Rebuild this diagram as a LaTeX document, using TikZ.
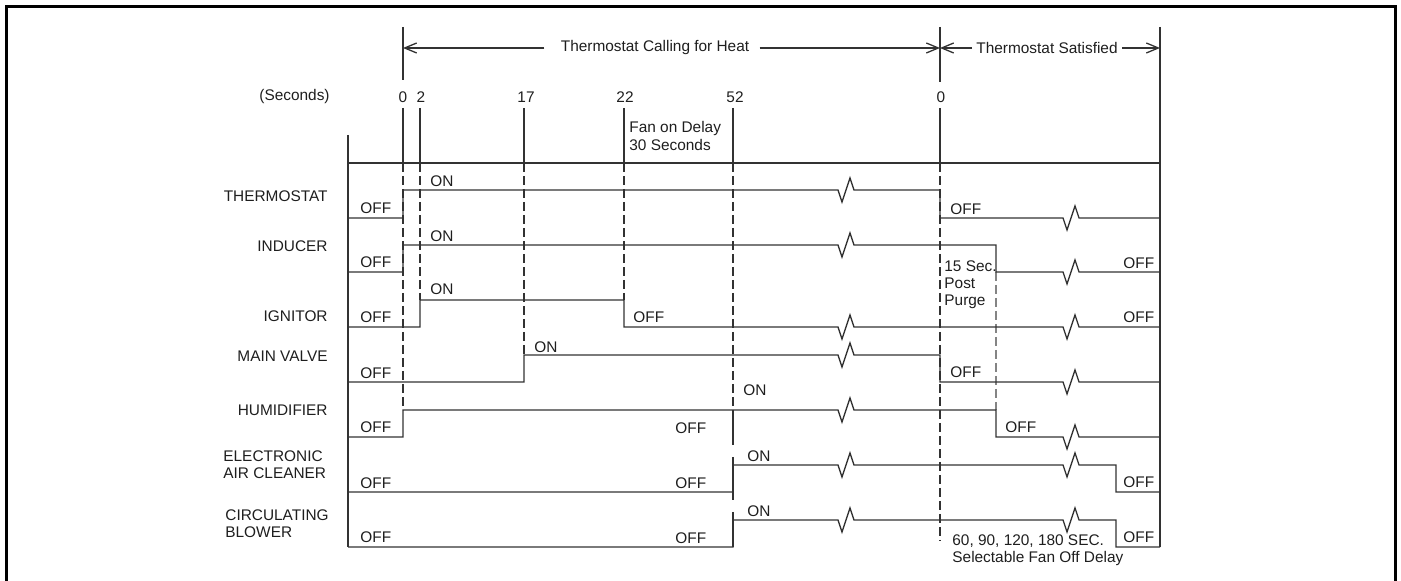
\documentclass[tikz,border=0pt]{standalone}
\usepackage{fontspec}
\setmainfont{Liberation Sans}
\usepackage{tikz}
\usetikzlibrary{arrows.meta, positioning}
\definecolor{trazo}{RGB}{50,50,50}
\definecolor{letra}{RGB}{30,30,30}
\newcommand{\zig}[2]{-- (#1-8,#2) -- (#1-4,#2+12) -- (#1+4,#2-12) -- (#1+8,#2)}
\tikzset{>={Straight Barb[length=6pt,width=5pt]},
  lbl/.style={font=\fontsize{7.7}{8.6}\selectfont, text=letra, inner sep=0pt},
  sig/.style={trazo, line width=0.65pt},
  guide/.style={trazo, line width=0.6pt, dash pattern=on 4.5pt off 2pt}}

\begin{document}
\begin{tikzpicture}[x=0.5pt, y=-0.5pt]
  \useasboundingbox (0,0) rectangle (1401,581);
  % frame
  \draw[black, line width=1.5pt] (6,590) -- (6,7) -- (1395,7) -- (1395,590);
  % header
  \coordinate (h0) at (403,48);
  \coordinate (h1) at (940,48);
  \coordinate (h2) at (1160,48);
  \node[lbl] (call) at (655,48) {Thermostat Calling for Heat};
  \node[lbl] (sat) at (1047,48) {Thermostat Satisfied};
  \draw[sig, ->] ([xshift=-8pt]call.west) -- (h0);
  \draw[sig, ->] ([xshift=5pt]call.east) -- (h1);
  \draw[sig, ->] ([xshift=-2pt]sat.west) -- (h1);
  \draw[sig, ->] ([xshift=2pt]sat.east) -- (h2);
  \draw[sig] (403,27) -- (403,80);
  \draw[sig] (940,27) -- (940,82);
  % seconds
  \node[lbl, anchor=east] (secs) at (330,97) {(Seconds)};
  \node[lbl] (s0) at (403,97) {0};
  \node[lbl] (s2) at (421,97) {2};
  \node[lbl] (s17) at (526,97) {17};
  \node[lbl] (s22) at (625,97) {22};
  \node[lbl] (s52) at (735,97) {52};
  \node[lbl] (r0) at (941,97) {0};
  \node[lbl, anchor=west, align=left] (fanon) at (629,136) {Fan on Delay\\30 Seconds};
  \foreach \t in {403,420,524,624,733,940}
    \draw[sig] (\t,108) -- (\t,163);
  % chart box
  \draw[sig] (348,135) -- (348,547);
  \draw[sig] (348,163) -- (1160,163);
  \draw[sig] (1160,27) -- (1160,547);
  % guide lines
  \draw[guide] (403,163) -- (403,410);
  \draw[guide] (420,163) -- (420,300);
  \draw[guide] (524,163) -- (524,355);
  \draw[guide] (624,163) -- (624,300);
  \draw[guide] (733,163) -- (733,410);
  \draw[guide] (940,163) -- (940,541);
  \draw[guide, trazo!60] (996,272) -- (996,410);
  \draw[sig] (733,410) -- (733,445);
  \draw[sig] (733,457) -- (733,500);
  \draw[sig] (733,512) -- (733,547);
  % signals
  \draw[sig] (348,218) -- (403,218) -- (403,190) \zig{846}{190} -- (940,190) -- (940,218) \zig{1071}{218} -- (1160,218);
  \draw[sig] (348,272) -- (403,272) -- (403,245) \zig{846}{245} -- (996,245) -- (996,272) \zig{1071}{272} -- (1160,272);
  \draw[sig] (348,327) -- (420,327) -- (420,300) -- (624,300) -- (624,327) \zig{846}{327} \zig{1071}{327} -- (1160,327);
  \draw[sig] (348,382) -- (524,382) -- (524,355) \zig{846}{355} -- (940,355) -- (940,382) \zig{1071}{382} -- (1160,382);
  \draw[sig] (348,437) -- (403,437) -- (403,410) \zig{846}{410} -- (996,410) -- (996,437) \zig{1071}{437} -- (1160,437);
  \draw[sig] (348,492) -- (733,492) -- (733,465) \zig{846}{465} \zig{1071}{465} -- (1116,465) -- (1116,492) -- (1160,492);
  \draw[sig] (348,547) -- (733,547) -- (733,520) \zig{846}{520} \zig{1071}{520} -- (1116,520) -- (1116,547) -- (1160,547);
  % row names
  \node[lbl, anchor=east] (thermo) at (328,196) {THERMOSTAT};
  \node[lbl, anchor=east] (induc) at (328,246) {INDUCER};
  \node[lbl, anchor=east] (ignit) at (328,316) {IGNITOR};
  \node[lbl, anchor=east] (valve) at (328,356) {MAIN VALVE};
  \node[lbl, anchor=east] (humid) at (328,410) {HUMIDIFIER};
  \node[lbl, anchor=west, align=left] (cleaner) at (223,465) {ELECTRONIC\\AIR CLEANER};
  \node[lbl, anchor=west, align=left] (blower) at (225,524) {CIRCULATING\\BLOWER};
  % states
  \foreach \y [count=\i] in {208,262,317,373,427,483,537}
    \node[lbl, anchor=west] (offa\i) at (360,\y) {OFF};
  \foreach \y [count=\i] in {181,236,289}
    \node[lbl, anchor=west] (ona\i) at (430,\y) {ON};
  \node[lbl, anchor=west] (offig) at (633,317) {OFF};
  \node[lbl, anchor=west] (onmv) at (534,347) {ON};
  \foreach \y [count=\i] in {428,483,538}
    \node[lbl, anchor=west] (offb\i) at (675,\y) {OFF};
  \node[lbl, anchor=west] (onhu) at (743,390) {ON};
  \node[lbl, anchor=west] (onec) at (747,456) {ON};
  \node[lbl, anchor=west] (oncb) at (747,511) {ON};
  \node[lbl, anchor=west] (offth) at (950,209) {OFF};
  \node[lbl, anchor=west] (offmv) at (950,372) {OFF};
  \node[lbl, anchor=west] (offhu) at (1005,427) {OFF};
  \foreach \y [count=\i] in {263,317,482,537}
    \node[lbl, anchor=west] (offc\i) at (1123,\y) {OFF};
  \node[lbl, anchor=west, align=left] (purge) at (944,285) {15 Sec.\\Post\\Purge};
  \node[lbl, anchor=west, align=left] (fanoff) at (952,550) {60, 90, 120, 180 SEC.\\Selectable Fan Off Delay};
\end{tikzpicture}
\end{document}
